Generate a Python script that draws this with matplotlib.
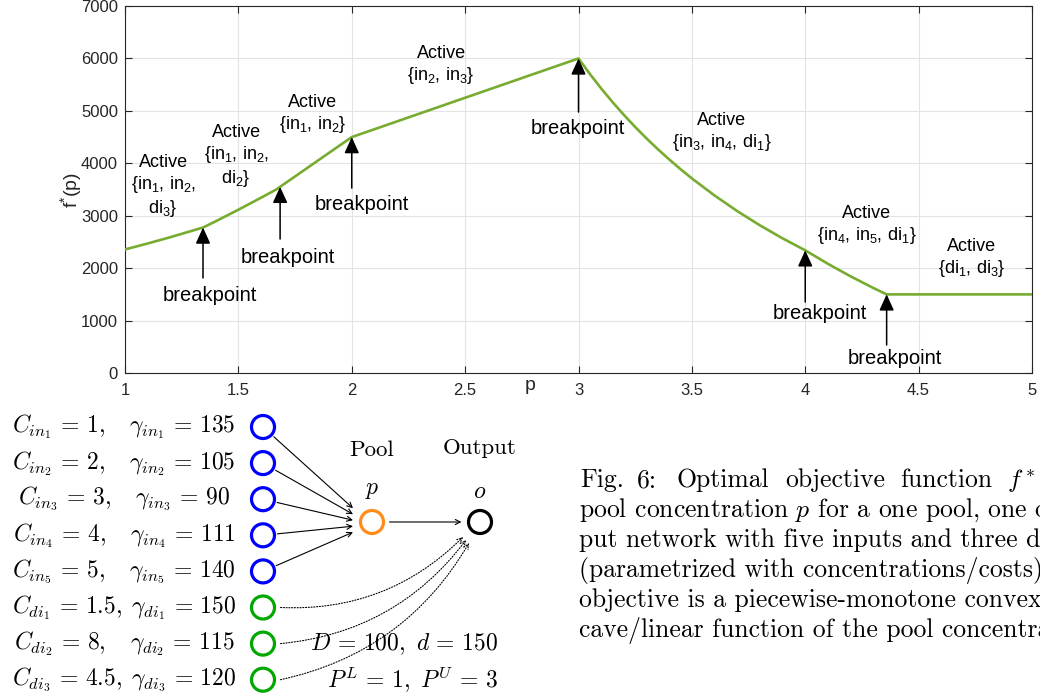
import matplotlib.pyplot as plt
import numpy as np
from matplotlib.patches import Circle, FancyArrowPatch

# optimal objective f*(p) along the pool concentration
p_vals = [1.0, 1.1, 1.2, 1.3, 1.344, 1.4, 1.5, 1.6, 1.667, 1.7, 1.8, 1.9, 2.0,
          2.5, 3.0, 3.05, 3.1, 3.15, 3.2, 3.25, 3.3, 3.35, 3.4, 3.45, 3.5, 3.6, 3.7,
          3.8, 3.9, 4.0, 4.1, 4.2, 4.3, 4.359, 5.0]
f_vals = [2357, 2471, 2591, 2719, 2775, 2894, 3115, 3344, 3500, 3600, 3900, 4200, 4500,
          5250, 6000, 5705, 5428, 5168, 4924, 4693, 4475, 4269, 4074, 3888, 3712, 3386, 3089,
          2817, 2569, 2340, 2083, 1844, 1623, 1500, 1500]

xticks = [1, 1.5, 2, 2.5, 3, 3.5, 4, 4.5, 5]
xtick_labels = ['1', '1.5', '2', '2.5', '3', '3.5', '4', '4.5', '5']
yticks = [0, 1000, 2000, 3000, 4000, 5000, 6000, 7000]

# breakpoints: where the arrow points, where its tail sits, where the word goes
bp_p = [1.344, 1.684, 2.0, 3.0, 4.0, 4.359]
bp_tail = [1812, 2556, 3528, 4978, 1354, 534]
bp_text = [(1.375, 1488), (1.719, 2212), (2.045, 3223), (2.998, 4673),
           (4.065, 1144), (4.396, 286)]

# active sets on each piece
act_sets = [
    r'$\{\mathrm{in}_1,\,\mathrm{in}_2,$' + '\n' + r'$\mathrm{di}_3\}$',
    r'$\{\mathrm{in}_1,\,\mathrm{in}_2,$' + '\n' + r'$\mathrm{di}_2\}$',
    r'$\{\mathrm{in}_1,\,\mathrm{in}_2\}$',
    r'$\{\mathrm{in}_2,\,\mathrm{in}_3\}$',
    r'$\{\mathrm{in}_3,\,\mathrm{in}_4,\,\mathrm{di}_1\}$',
    r'$\{\mathrm{in}_4,\,\mathrm{in}_5,\,\mathrm{di}_1\}$',
    r'$\{\mathrm{di}_1,\,\mathrm{di}_3\}$',
]
act_xy = [(1.168, 3567), (1.49, 4139), (1.826, 4930), (2.394, 5874),
          (3.633, 4597), (4.272, 2813), (4.735, 2184)]

# network: inputs / direct inputs with concentrations and costs
node_names = ['in_1', 'in_2', 'in_3', 'in_4', 'in_5', 'di_1', 'di_2', 'di_3']
node_conc = ['1', '2', '3', '4', '5', '1.5', '8', '4.5']
node_cost = [135, 105, 90, 111, 140, 150, 115, 120]

# caption: first line is justified, so its words are set one by one
cap_first = ['Fig.', '6:', 'Optimal', 'objective', 'function', r'$f^*(p)$']
cap_first_x = [580, 637, 677, 785, 900, 1007]
caption = [
    r'pool concentration $p$ for a one pool, one out-',
    r'put network with five inputs and three direct inputs',
    r'(parametrized with concentrations/costs). The',
    r'objective is a piecewise-monotone convex/con-',
    r'cave/linear function of the pool concentration.',
]

plt.rcParams['font.family'] = ['Liberation Sans', 'DejaVu Sans']
plt.rcParams['mathtext.rm'] = 'Liberation Sans'
plt.rcParams['mathtext.it'] = 'Liberation Sans:italic'
plt.rcParams['mathtext.bf'] = 'Liberation Sans:bold'

fig = plt.figure(figsize=(10.4, 7), dpi=100)
ax = fig.add_axes([0.1202, 0.4671, 0.8721, 0.5243])

ax.plot(p_vals, f_vals, color='#77AC30', lw=1.9, zorder=3)

for bx, tail, (tx, ty) in zip(bp_p, bp_tail, bp_text):
    by = np.interp(bx, p_vals, f_vals)
    ax.annotate('', xy=(bx, by), xytext=(bx, tail),
                arrowprops=dict(arrowstyle='-|>,head_length=0.7,head_width=0.32',
                                color='k', lw=1.1, mutation_scale=14,
                                shrinkA=0, shrinkB=0), zorder=4)
    ax.text(tx, ty, 'breakpoint', ha='center', va='center', fontsize=14.5)

for s, (x, y) in zip(act_sets, act_xy):
    ax.text(x, y, 'Active\n' + s, ha='center', va='center', fontsize=13,
            linespacing=1.2, math_fontfamily='custom')

ax.set_xlim(1, 5)
ax.set_ylim(0, 7000)
ax.set_xticks(xticks)
ax.set_xticklabels(xtick_labels)
ax.set_yticks(yticks)
ax.grid(True, color='#e3e3e3', lw=0.8)
ax.set_axisbelow(True)
ax.tick_params(direction='in', top=True, right=True, length=5, width=0.8,
               colors='#262626', labelsize=12)
ax.tick_params(axis='x', pad=7)
ax.tick_params(axis='y', pad=5)
for sp in ax.spines.values():
    sp.set_color('#262626')
    sp.set_linewidth(0.8)

ax.set_xlabel('p', fontsize=14, color='#262626')
ax.xaxis.set_label_coords(0.4465, -0.012)
ax.set_ylabel(r'f$^{*}$(p)', fontsize=14, color='#262626', math_fontfamily='custom')
ax.yaxis.set_label_coords(-0.045, 0.5)

# pooling network sketch below the plot, laid out in pixel units
dax = fig.add_axes([0, 0, 1, 1])
dax.set_xlim(0, 1040)
dax.set_ylim(700, 0)
dax.axis('off')

node_x, row0, row_gap, r = 263, 427, 36.1, 11.5
pool = (372, 522)
out = (480, 522)
cm = dict(family='cmr10', math_fontfamily='cm')

for i, (nm, c, g) in enumerate(zip(node_names, node_conc, node_cost)):
    y = row0 + i * row_gap
    gap = r'\;' if '.' in c else r'\quad'
    dax.text(124, y, rf'$C_{{{nm}}} \,=\, {c},{gap} \gamma_{{{nm}}} \,=\, {g}$',
             ha='center', va='center', fontsize=17, **cm)
    col = '#0000ff' if nm.startswith('in') else '#00a800'
    dax.add_patch(Circle((node_x, y), r, fill=False, ec=col, lw=2.3))
    if nm.startswith('in'):
        end = (353, pool[1] + (i - 2.3) * 6)
        d = np.array(end) - np.array((node_x, y))
        start = np.array((node_x, y)) + d / np.hypot(*d) * (r + 3)
        dax.add_patch(FancyArrowPatch(tuple(start), end, arrowstyle='->',
                                      mutation_scale=9, lw=0.8, color='k',
                                      shrinkA=0, shrinkB=0))
    else:
        end = (463 + (i - 5) * 3, 537 + (i - 5) * 3)
        dax.add_patch(FancyArrowPatch((node_x + r + 6, y), end, arrowstyle='->',
                                      connectionstyle='arc3,rad=0.22',
                                      mutation_scale=9, lw=0.8, color='k',
                                      linestyle=(0, (1, 1.5)),
                                      shrinkA=0, shrinkB=0))

dax.add_patch(Circle(pool, r, fill=False, ec='#ff8c1a', lw=2.3))
dax.add_patch(Circle(out, r, fill=False, ec='k', lw=2.3))
dax.add_patch(FancyArrowPatch((pool[0] + r + 6, pool[1]), (out[0] - r - 7, out[1]),
                              arrowstyle='->', mutation_scale=9, lw=0.8, color='k',
                              shrinkA=0, shrinkB=0))

dax.text(pool[0], 450, 'Pool', ha='center', va='center', fontsize=16.5, **cm)
dax.text(out[0], 448, 'Output', ha='center', va='center', fontsize=16.5, **cm)
dax.text(pool[0], 490, '$p$', ha='center', va='center', fontsize=17, **cm)
dax.text(out[0], 492, '$o$', ha='center', va='center', fontsize=17, **cm)
dax.text(498, 644, r'$D \,=\, 100,\ d \,=\, 150$', ha='right', va='center',
         fontsize=17, **cm)
dax.text(498, 680, r'$P^L \,=\, 1,\ P^U \,=\, 3$', ha='right', va='center',
         fontsize=17, **cm)

base, lead = 487, 30.1
for w, x in zip(cap_first, cap_first_x):
    dax.text(x, base, w, ha='left', va='baseline', fontsize=18.5, **cm)
for k, line in enumerate(caption):
    dax.text(579, base + (k + 1) * lead, line, ha='left', va='baseline',
             fontsize=18.5, **cm)

fig.savefig('out.png', dpi=100)
